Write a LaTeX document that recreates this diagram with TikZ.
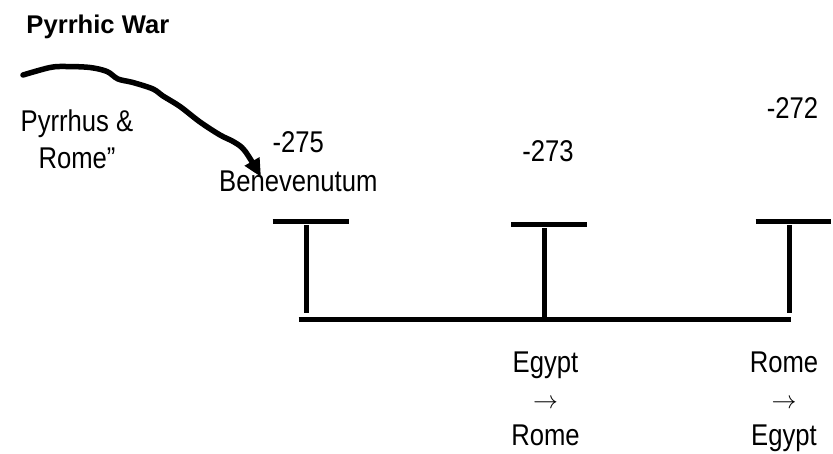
\documentclass[tikz,border=0pt]{standalone}
\usepackage{fontspec}
\setmainfont{Liberation Sans}
\newfontfamily\narrowsf{Liberation Sans}[FakeStretch=0.855]
\usetikzlibrary{arrows.meta}

\begin{document}
\begin{tikzpicture}[x=1pt, y=-1pt,
	linea/.style={line width=5pt},
	etiq/.style={font=\narrowsf\fontsize{30}{39}\selectfont, align=center, inner sep=0pt, anchor=north}]
	\useasboundingbox (0,0) rectangle (833,453);

	% Titulo
		\node[anchor=base west, inner sep=0pt, font=\bfseries\fontsize{25.6}{30}\selectfont] (titulo) at (26.3,33.3) {Pyrrhic War};

	% Flecha a mano
		\node[etiq, font=\narrowsf\fontsize{30}{36.7}\selectfont] (pyrrhus) at (77,110) {Pyrrhus \&\\Rome”};
		\draw[line width=5.5pt, line cap=round, line join=round, -{Triangle[length=18pt,width=16pt]}]
			plot[smooth, tension=0.55] coordinates {(23,75) (50,67.5) (66,66.5) (90,67.5) (107,71.5) (118,79) (133,82.5) (153,89) (163,96) (180,106.5) (200,122) (220,135) (234,142) (245,151) (261,177)};

	% Fechas
		\node[etiq] (a275) at (298.3,131) {-275\\Benevenutum};
		\node[etiq] (a273) at (548,140) {-273};
		\node[etiq] (a272) at (792.5,97.3) {-272};

	% Linea de tiempo
		\draw[linea] (298.7,319.2) -- (790.7,319.2);
		\draw[linea] (272.7,221.5) -- (349,221.5);
		\draw[linea] (306.5,225) -- (306.5,313.3);
		\draw[linea] (511.3,224.5) -- (587.3,224.5);
		\draw[linea] (544.5,228) -- (544.5,317);
		\draw[linea] (755.7,221.5) -- (831.3,221.5);
		\draw[linea] (789.2,225) -- (789.2,313.3);

	% Abajo
		\node[etiq, font=\narrowsf\fontsize{30}{36.5}\selectfont] (egrom) at (545.5,351.5) {Egypt\\$\rightarrow$\\Rome};
		\node[etiq, font=\narrowsf\fontsize{30}{36.5}\selectfont] (romeg) at (784,351.5) {Rome\\$\rightarrow$\\Egypt};
\end{tikzpicture}
\end{document}
